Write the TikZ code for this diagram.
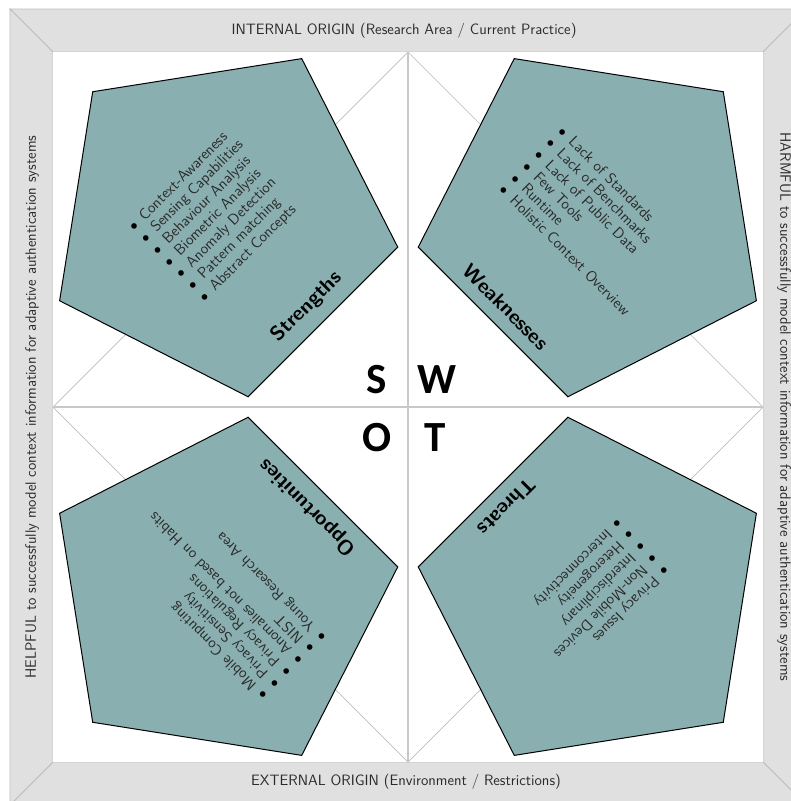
\documentclass[tikz,border=0pt]{standalone}
\usepackage{fontspec}
\newfontfamily\swotfont{Carlito}
\definecolor{pentfill}{HTML}{8AAFB0}
\definecolor{framefill}{HTML}{E0E0E0}
\definecolor{frameline}{HTML}{BEBEBE}
\definecolor{guidegray}{HTML}{BDBDBD}
\definecolor{crossgray}{HTML}{C8C8C8}
\definecolor{textgray}{HTML}{2A2A2A}
\newcommand{\itemdot}{\textcolor{black}{$\bullet$}\hspace{8pt}}
\begin{document}
\begin{tikzpicture}[x=1pt,y=-1pt,
  framepart/.style={fill=framefill, draw=frameline, line width=0.8pt, line join=miter},
  pent/.style={fill=pentfill, draw=black, line width=1pt, line join=miter},
  guide/.style={draw=guidegray, line width=0.7pt},
  cross/.style={draw=crossgray, line width=1.3pt},
  listitem/.style={anchor=base west, transform shape, inner sep=0pt, text=textgray,
    font=\sffamily\fontsize{15.3}{16}\selectfont},
  heading/.style={inner sep=0pt, text=black, font=\sffamily\bfseries\fontsize{20.5}{24}\selectfont},
  framelabel/.style={inner sep=0pt, text=textgray, font=\sffamily\fontsize{15}{17}\selectfont},
  swot/.style={anchor=base, inner sep=0pt, font=\swotfont\bfseries\fontsize{43}{48}\selectfont}]
\useasboundingbox (0,0) rectangle (791,801);
\fill[white] (0,0) rectangle (791,801);
% frame corners
\coordinate (O1) at (10,9);
\coordinate (O2) at (806,9);
\coordinate (O3) at (806,805);
\coordinate (O4) at (10,805);
\coordinate (I1) at (53,52);
\coordinate (I2) at (763,52);
\coordinate (I3) at (763,762);
\coordinate (I4) at (53,762);
\coordinate (Mt) at (408,52);
\coordinate (Mr) at (763,407);
\coordinate (Mb) at (408,762);
\coordinate (Ml) at (53,407);
% frame
\draw[framepart] (O1) -- (O2) -- (I2) -- (I1) -- cycle;
\draw[framepart] (O2) -- (O3) -- (I3) -- (I2) -- cycle;
\draw[framepart] (O3) -- (O4) -- (I4) -- (I3) -- cycle;
\draw[framepart] (O4) -- (O1) -- (I1) -- (I4) -- cycle;
\fill[white] (I1) rectangle (I3);
% diamond and cross
\draw[guide] (Mt) -- (Mr) -- (Mb) -- (Ml) -- cycle;
\draw[cross] (Mt) -- (Mb);
\draw[cross] (Ml) -- (Mr);
% pentagons
\draw[pent, shift={(220,219)}] (225:180) -- (297:180) -- (9:180) -- (81:180) -- (153:180) -- cycle;
\draw[pent, shift={(596,219)}] (315:180) -- (27:180) -- (99:180) -- (171:180) -- (243:180) -- cycle;
\draw[pent, shift={(220,595)}] (135:180) -- (207:180) -- (279:180) -- (351:180) -- (63:180) -- cycle;
\draw[pent, shift={(596,595)}] (45:180) -- (117:180) -- (189:180) -- (261:180) -- (333:180) -- cycle;
% frame labels
\node[framelabel] (top) at (404,31) {INTERNAL ORIGIN (Research Area / Current Practice)};
\node[framelabel] (bottom) at (406,782) {EXTERNAL ORIGIN (Environment / Restrictions)};
\node[framelabel, rotate=90] (left) at (32,407) {HELPFUL to successfully model context information for adaptive authentication systems};
\node[framelabel, rotate=-90] (right) at (784,407) {HARMFUL to successfully model context information for adaptive authentication systems};
% headings
\node[heading, rotate=45] (hS) at (307,307) {Strengths};
\node[heading, rotate=-45] (hW) at (506,307) {Weaknesses};
\node[heading, rotate=135] (hO) at (308,507) {Opportunities};
\node[heading, rotate=225] (hT) at (507,507) {Threats};
% SWOT letters
\node[swot] (S) at (377,393) {S};
\node[swot] (W) at (437,393) {W};
\node[swot] (O) at (377,451) {O};
\node[swot] (T) at (435,451) {T};
% lists
\begin{scope}[shift={(134,232)}, rotate=45]
\foreach \t [count=\k from 0] in {Context-Awareness, Sensing Capabilities, Behaviour Analysis, Biometric Analysis, Anomaly Detection, Pattern matching, Abstract Concepts}
  \node[listitem] (s\k) at (0,16.6*\k) {\itemdot\t};
\end{scope}
\begin{scope}[shift={(557,132)}, rotate=-45]
\foreach \t [count=\k from 0] in {Lack of Standards, Lack of Benchmarks, Lack of Public Data, Few Tools, Runtime, Holistic Context Overview}
  \node[listitem] (w\k) at (0,16.6*\k) {\itemdot\t};
\end{scope}
\begin{scope}[shift={(268,695)}, rotate=135]
\foreach \t [count=\k from 0] in {Mobile Computing, Privacy Sensitivity, Privacy Regulations, Anomalies not based on Habits, NIST, Young Research Area}
  \node[listitem] (o\k) at (0,16.6*\k) {\itemdot\t};
\end{scope}
\begin{scope}[shift={(664,565)}, rotate=225]
\foreach \t [count=\k from 0] in {Privacy Issues, Non-Mobile Devices, Interdisciplinary, Heterogeneity, Interconnectivity}
  \node[listitem] (t\k) at (0,16.6*\k) {\itemdot\t};
\end{scope}
\end{tikzpicture}
\end{document}
